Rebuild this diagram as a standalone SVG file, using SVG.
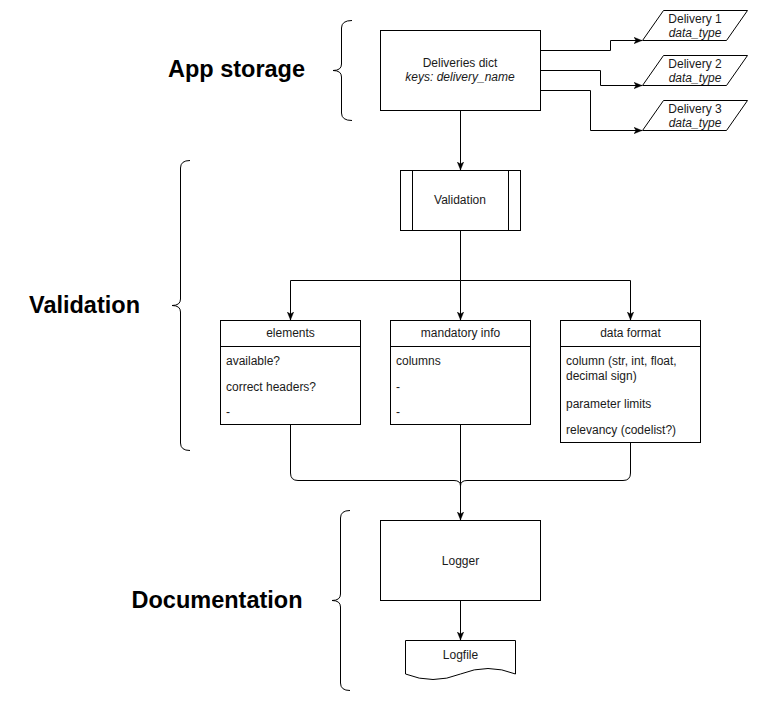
<svg xmlns="http://www.w3.org/2000/svg" width="761" height="701" viewBox="0 0 761 701">
<defs>
<style>
.shape{fill:#fff;stroke:#000;stroke-width:1}
.line{fill:none;stroke:#000;stroke-width:1}
.conn{fill:none;stroke:#000;stroke-width:1;marker-end:url(#arrow)}
.t{font-family:"Liberation Sans",Arial,Helvetica,sans-serif;font-size:12px;fill:#1a1a1a}
.c{text-anchor:middle}
.i{font-style:italic}
.title{font-family:"Liberation Sans",Arial,Helvetica,sans-serif;font-size:23.5px;font-weight:bold;fill:#000;text-anchor:middle}
</style>
<marker id="arrow" markerUnits="userSpaceOnUse" viewBox="0 0 10 10" refX="10" refY="5" markerWidth="8" markerHeight="8" orient="auto">
<path d="M0,1 L10,5 L0,9 L2.5,5 z" fill="#000" stroke="#000" stroke-width="0.5"/>
</marker>
</defs>
<rect width="761" height="701" fill="#fff"/>

<g id="label-app-storage"><text class="title" x="236.5" y="77">App storage</text></g>
<g id="label-validation"><text class="title" x="84.5" y="313">Validation</text></g>
<g id="label-documentation"><text class="title" x="217" y="608">Documentation</text></g>

<g id="brace-app-storage"><path class="line" d="M352,20.5 Q341.5,20.5 341.5,28 V64 Q341.5,70.5 333,70.5 Q341.5,70.5 341.5,77 V113 Q341.5,120.5 352,120.5"/></g>
<g id="brace-validation"><path class="line" d="M190,160.5 Q180.5,160.5 180.5,168 V299 Q180.5,305.5 172,305.5 Q180.5,305.5 180.5,312 V443 Q180.5,450.5 190,450.5"/></g>
<g id="brace-documentation"><path class="line" d="M350,510.5 Q340.5,510.5 340.5,518 V594 Q340.5,600.5 332,600.5 Q340.5,600.5 340.5,607 V683 Q340.5,690.5 350,690.5"/></g>

<g id="connectors">
<path class="conn" d="M460.5,110 V170"/>
<path class="conn" d="M540,50.5 H610.5 V40.5 H642"/>
<path class="conn" d="M540,70.5 H600.5 V85.5 H642"/>
<path class="conn" d="M540,90.5 H590.5 V130.5 H642"/>
<path class="conn" d="M460.5,230 V280.5 H290.5 V320"/>
<path class="conn" d="M460.5,280.5 V320"/>
<path class="conn" d="M460.5,280.5 H630.5 V320"/>
<path class="line" d="M290.5,424 V473 Q290.5,480.5 298,480.5 H454 Q460.5,480.5 460.5,486 Q460.5,480.5 467,480.5 H623 Q630.5,480.5 630.5,473 V442"/>
<path class="conn" d="M460.5,424 V520"/>
<path class="conn" d="M460.5,600 V640"/>
</g>

<g id="deliveries-dict">
<rect class="shape" x="380.5" y="30.5" width="160" height="80"/>
<text class="t c" x="460" y="67">Deliveries dict</text>
<text class="t c i" x="460" y="81">keys: delivery_name</text>
</g>

<g id="delivery-1">
<path class="shape" stroke-linejoin="round" d="M642.5,40.5 L663.5,10.5 H747.5 L726.5,40.5 Z"/>
<text class="t c" x="695" y="23">Delivery 1</text>
<text class="t c i" x="695" y="37">data_type</text>
</g>
<g id="delivery-2">
<path class="shape" stroke-linejoin="round" d="M642.5,85.5 L663.5,55.5 H747.5 L726.5,85.5 Z"/>
<text class="t c" x="695" y="68">Delivery 2</text>
<text class="t c i" x="695" y="82">data_type</text>
</g>
<g id="delivery-3">
<path class="shape" stroke-linejoin="round" d="M642.5,130.5 L663.5,100.5 H747.5 L726.5,130.5 Z"/>
<text class="t c" x="695" y="113">Delivery 3</text>
<text class="t c i" x="695" y="127">data_type</text>
</g>

<g id="validation">
<rect class="shape" x="400.5" y="170.5" width="120" height="60"/>
<path class="line" d="M412.5,170.5 V230.5 M508.5,170.5 V230.5"/>
<text class="t c" x="460" y="204">Validation</text>
</g>

<g id="elements">
<rect class="shape" x="220.5" y="320.5" width="140" height="104"/>
<path class="line" d="M220.5,346.5 H360.5"/>
<text class="t c" x="290.5" y="337">elements</text>
<text class="t" x="226" y="365">available?</text>
<text class="t" x="226" y="391">correct headers?</text>
<text class="t" x="226" y="416">-</text>
</g>

<g id="mandatory-info">
<rect class="shape" x="390.5" y="320.5" width="140" height="104"/>
<path class="line" d="M390.5,346.5 H530.5"/>
<text class="t c" x="460.5" y="337">mandatory info</text>
<text class="t" x="396" y="365">columns</text>
<text class="t" x="396" y="391">-</text>
<text class="t" x="396" y="416">-</text>
</g>

<g id="data-format">
<rect class="shape" x="560.5" y="320.5" width="140" height="122"/>
<path class="line" d="M560.5,346.5 H700.5"/>
<text class="t c" x="630.5" y="337">data format</text>
<text class="t" x="566" y="365">column (str, int, float,</text>
<text class="t" x="566" y="380">decimal sign)</text>
<text class="t" x="566" y="408">parameter limits</text>
<text class="t" x="566" y="434">relevancy (codelist?)</text>
</g>

<g id="logger">
<rect class="shape" x="380.5" y="520.5" width="160" height="80"/>
<text class="t c" x="460.5" y="565">Logger</text>
</g>

<g id="logfile">
<path class="shape" d="M405.5,640.5 H515.5 V674 Q488,663 460.5,674 Q433,685 405.5,674 Z"/>
<text class="t c" x="460.5" y="659">Logfile</text>
</g>
</svg>
